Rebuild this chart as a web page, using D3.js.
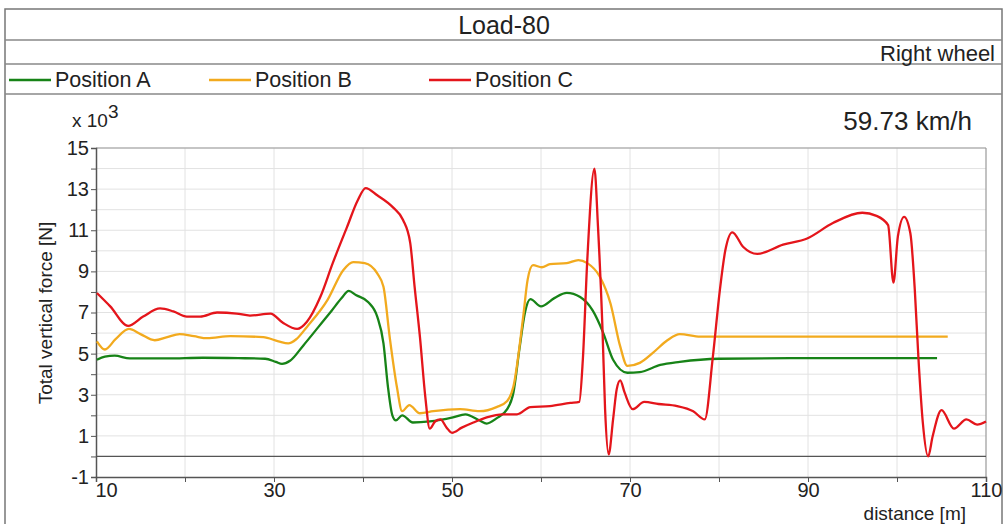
<style>
  body { margin: 0; background: #fff; }
  text { font-family: "Liberation Sans", Arial, sans-serif; fill: #222; }
</style>
<script type='text/javascript' src='https://d3js.org/d3.v7.min.js'></script>
<svg width="1007" height="524"></svg>
<script>
// data, force in kN (x 10^3 N)
var distA = [10.1, 11, 12.1, 13.8, 18, 22, 26, 29, 30.2, 30.9, 31.8, 33.3, 35, 36.5, 37.6, 38.4, 39.2, 40.6, 41.6, 42.3, 42.8, 43.3, 43.7, 44.4, 45.6, 47.5, 50.1, 51.5, 53.1, 53.9, 55, 56.2, 56.9, 57.6, 58.2, 58.8, 60, 61.5, 62.9, 64.4, 65.8, 67, 68.1, 69.7, 71.1, 73.4, 75.6, 80, 90, 104.5];
var forceA = [4.7, 4.85, 4.9, 4.77, 4.77, 4.8, 4.78, 4.75, 4.6, 4.5, 4.65, 5.4, 6.3, 7.1, 7.7, 8.05, 7.85, 7.5, 6.8, 5.5, 3.4, 2.0, 1.75, 2.0, 1.65, 1.7, 1.9, 2.05, 1.75, 1.6, 1.85, 2.3, 3.1, 5.3, 7.0, 7.65, 7.3, 7.7, 7.95, 7.75, 7.1, 6.0, 4.7, 4.07, 4.1, 4.45, 4.6, 4.75, 4.78, 4.78];

var distB = [10.1, 11, 12.2, 13.7, 15, 16.6, 18, 19.4, 21, 22.5, 25.1, 28.8, 30.5, 31.6, 32.5, 33.7, 36, 37.8, 38.9, 40.2, 41.6, 42.3, 43, 43.8, 44.4, 45.2, 46.4, 47.9, 50.9, 53.1, 55, 56.2, 56.9, 58, 58.5, 59.1, 60.1, 61, 62.9, 64.2, 65.2, 66.6, 67.8, 68.9, 69.7, 71.1, 72.6, 74.2, 75.6, 77.9, 80, 105.7];
var forceB = [5.6, 5.2, 5.7, 6.2, 5.95, 5.65, 5.8, 5.95, 5.85, 5.75, 5.85, 5.8, 5.6, 5.5, 5.7, 6.3, 7.6, 9.07, 9.45, 9.4, 8.9, 8.25, 5.8, 3.4, 2.2, 2.5, 2.1, 2.2, 2.3, 2.2, 2.4, 2.7, 3.4, 6.8, 8.6, 9.3, 9.2, 9.35, 9.4, 9.55, 9.4, 8.75, 7.45, 5.35, 4.4, 4.55, 5.05, 5.65, 5.95, 5.83, 5.83, 5.83];

var distC = [10.1, 11.6, 13.6, 15.3, 17.2, 18.7, 20.2, 21.7, 23.6, 25.8, 27.3, 29.6, 31, 32.6, 33.7, 35.2, 36.6, 38.2, 39.4, 40.3, 41.6, 43.4, 44.5, 45.3, 45.8, 46.4, 47, 47.5, 48.1, 48.7, 49.4, 50, 51.1, 52.4, 53.9, 55.7, 57.3, 58.8, 61, 63.3, 64.3, 64.7, 65.2, 66, 66.4, 66.9, 67.2, 67.6, 68.1, 68.5, 68.9, 69.4, 70.3, 71.6, 73.2, 75.3, 77.1, 78.4, 79.3, 80.1, 80.7, 81.5, 82.7, 84.3, 87.2, 89.9, 92.8, 96.1, 97.7, 99, 99.6, 100.1, 100.8, 101.5, 102, 102.4, 102.9, 103.5, 104, 105, 106.4, 107.8, 109, 110];
var forceC = [7.95, 7.3, 6.35, 6.8, 7.2, 7.05, 6.8, 6.8, 7.0, 6.95, 6.85, 6.95, 6.5, 6.2, 6.55, 7.75, 9.4, 11.15, 12.45, 13.05, 12.7, 12.1, 11.5, 10.4, 8.25, 5.8, 2.9, 1.35, 1.7, 1.8, 1.4, 1.15, 1.4, 1.65, 1.9, 2.05, 2.05, 2.4, 2.45, 2.6, 2.65, 4.7, 9.55, 14.0, 11.2, 6.3, 2.3, 0.1, 1.8, 3.25, 3.7, 3.1, 2.3, 2.65, 2.55, 2.45, 2.2, 1.8, 4.8, 8.1, 10.0, 10.9, 10.2, 9.85, 10.3, 10.6, 11.35, 11.85, 11.7, 11.25, 8.45, 10.7, 11.65, 10.85, 8.1, 4.85, 1.65, 0, 0.97, 2.25, 1.35, 1.8, 1.55, 1.7];

var seriesNames = ["Position A", "Position B", "Position C"];
var seriesColors = ["#178317", "#f2aa1e", "#e4151b"];
var xTickLabels = [10, 30, 50, 70, 90, 110];
var yTickLabels = [-1, 1, 3, 5, 7, 9, 11, 13, 15];

var svg = d3.select("svg");

var plotLeft = 96, plotRight = 986, plotTop = 148, plotBottom = 477;
var x = d3.scaleLinear().domain([10, 110]).range([plotLeft, plotRight]);
var y = d3.scaleLinear().domain([-1, 15]).range([plotBottom, plotTop]);

// outer frame and header rows
svg.append("rect")
  .attr("x", 5).attr("y", 9).attr("width", 997).attr("height", 530)
  .attr("fill", "none").attr("stroke", "#777").attr("stroke-width", 1.5);
[40, 64, 94].forEach(function(yy) {
  svg.append("line")
    .attr("x1", 5).attr("x2", 1002).attr("y1", yy).attr("y2", yy)
    .attr("stroke", "#888").attr("stroke-width", 1.5);
});

svg.append("text")
  .attr("x", 504).attr("y", 34)
  .attr("text-anchor", "middle")
  .attr("font-size", "25px")
  .text("Load-80");

svg.append("text")
  .attr("x", 995).attr("y", 61)
  .attr("text-anchor", "end")
  .attr("font-size", "22px")
  .text("Right wheel");

// legend
var legendX = [9, 209, 429];
seriesNames.forEach(function(name, i) {
  svg.append("line")
    .attr("x1", legendX[i]).attr("x2", legendX[i] + 42)
    .attr("y1", 80).attr("y2", 80)
    .attr("stroke", seriesColors[i]).attr("stroke-width", 2.5);
  svg.append("text")
    .attr("x", legendX[i] + 46).attr("y", 87)
    .attr("font-size", "21.5px")
    .text(name);
});

svg.append("text")
  .attr("x", 972).attr("y", 130)
  .attr("text-anchor", "end")
  .attr("font-size", "26px")
  .text("59.73 km/h");

// gridlines
var g = svg.append("g");
g.selectAll(".hgrid")
  .data(d3.range(0, 16))
  .enter().append("line")
  .attr("x1", plotLeft).attr("x2", plotRight)
  .attr("y1", function(d) { return y(d); })
  .attr("y2", function(d) { return y(d); })
  .attr("stroke", "#e2e2e2").attr("stroke-width", 1);
g.selectAll(".vgrid")
  .data(d3.range(20, 110, 10))
  .enter().append("line")
  .attr("x1", function(d) { return x(d); })
  .attr("x2", function(d) { return x(d); })
  .attr("y1", plotTop).attr("y2", plotBottom)
  .attr("stroke", "#e2e2e2").attr("stroke-width", 1);

// plot border
g.append("line").attr("x1", plotLeft).attr("x2", plotRight).attr("y1", plotTop).attr("y2", plotTop)
  .attr("stroke", "#999").attr("stroke-width", 1.2);
g.append("line").attr("x1", plotRight).attr("x2", plotRight).attr("y1", plotTop).attr("y2", plotBottom)
  .attr("stroke", "#999").attr("stroke-width", 1.2);
// zero line
g.append("line").attr("x1", plotLeft).attr("x2", plotRight).attr("y1", y(0)).attr("y2", y(0))
  .attr("stroke", "#555").attr("stroke-width", 1.2);

// axes
var xAxis = d3.axisBottom(x)
  .tickValues(d3.range(10, 111, 10))
  .tickSize(5)
  .tickFormat(function(d) { return xTickLabels.indexOf(d) >= 0 ? d : ""; });
var gx = svg.append("g")
  .attr("transform", "translate(0," + plotBottom + ")")
  .call(xAxis);
gx.selectAll("text").attr("font-size", "20px").attr("dy", "0.85em").attr("y", 3);
gx.selectAll("text").filter(function(d) { return d === 10; })
  .attr("text-anchor", "start").attr("x", -1);

var yAxis = d3.axisLeft(y)
  .tickValues(d3.range(-1, 16, 1))
  .tickSize(5)
  .tickFormat(function(d) { return yTickLabels.indexOf(d) >= 0 ? d : ""; });
var gy = svg.append("g")
  .attr("transform", "translate(" + plotLeft + ",0)")
  .call(yAxis);
gy.selectAll("text").attr("font-size", "20px").attr("x", -7);

[gx, gy].forEach(function(ax) {
  ax.select(".domain").attr("stroke", "#555").attr("stroke-width", 1.5);
  ax.selectAll(".tick line").attr("stroke", "#555");
  ax.selectAll(".tick text").attr("fill", "#222").attr("font-family", "Liberation Sans, Arial, sans-serif");
});

svg.append("text")
  .attr("transform", "translate(52,313) rotate(-90)")
  .attr("text-anchor", "middle")
  .attr("font-size", "19px")
  .text("Total vertical force [N]");

var mult = svg.append("text")
  .attr("x", 72).attr("y", 127)
  .attr("font-size", "19px");
mult.append("tspan").text("x 10");
mult.append("tspan").attr("dy", -9).attr("font-size", "19px").text("3");

svg.append("text")
  .attr("x", 966).attr("y", 520)
  .attr("text-anchor", "end")
  .attr("font-size", "19px")
  .text("distance [m]");

// lines
var line = d3.line()
  .x(function(d) { return x(d[0]); })
  .y(function(d) { return y(d[1]); })
  .curve(d3.curveMonotoneX);

var series = [
  d3.zip(distA, forceA),
  d3.zip(distB, forceB),
  d3.zip(distC, forceC)
];
svg.selectAll(".series")
  .data(series)
  .enter().append("path")
  .attr("class", "series")
  .attr("fill", "none")
  .attr("stroke", function(d, i) { return seriesColors[i]; })
  .attr("stroke-width", 2.3)
  .attr("stroke-linejoin", "round")
  .attr("d", line);
</script>
